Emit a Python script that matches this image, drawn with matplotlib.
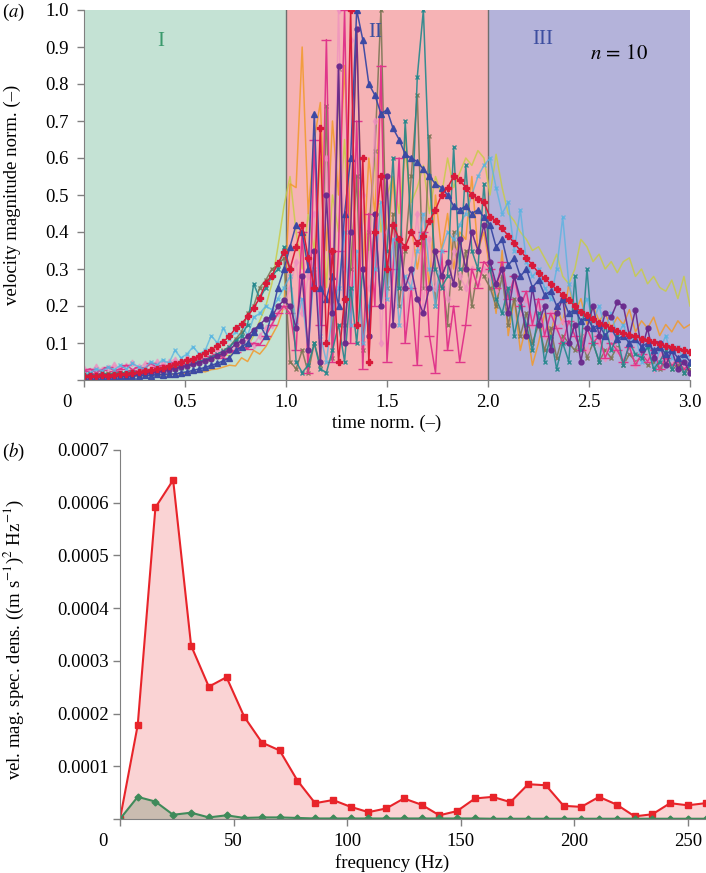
import numpy as np
import matplotlib
matplotlib.use('Agg')
import matplotlib.pyplot as plt
import matplotlib.transforms as mtransforms

plt.rcParams['font.family'] = ['Liberation Serif', 'DejaVu Serif']
plt.rcParams['mathtext.fontset'] = 'stix'
plt.rcParams['font.size'] = 13.5

# ---- panel (a): normalised velocity magnitude, 10 runs, sampled every 0.03 ----
time_norm = np.round(np.arange(101) * 0.03, 2)

run_red = [0.010, 0.012, 0.010, 0.013, 0.012, 0.014, 0.015, 0.017, 0.019, 0.021,
           0.024, 0.026, 0.030, 0.033, 0.038, 0.042, 0.048, 0.053, 0.058, 0.066,
           0.074, 0.082, 0.092, 0.104, 0.118, 0.140, 0.152, 0.172, 0.195, 0.222,
           0.262, 0.282, 0.315, 0.345] + \
          [0.30, 0.36, 0.42, 0.33, 0.25, 0.68, 0.10, 0.35, 0.05, 0.22, 1.00,
           0.15, 0.60, 0.05, 0.40, 0.55, 0.30, 0.42, 0.38, 0.36, 0.40, 0.37,
           0.39, 0.43, 0.46, 0.50, 0.52, 0.55, 0.54, 0.52, 0.50, 0.49, 0.48] + \
          [0.44, 0.43, 0.41, 0.39, 0.37, 0.35, 0.33, 0.31, 0.29, 0.275,
           0.26, 0.245, 0.23, 0.215, 0.20, 0.185, 0.175, 0.165, 0.155, 0.148,
           0.140, 0.133, 0.127, 0.122, 0.118, 0.112, 0.107, 0.102, 0.097, 0.092,
           0.088, 0.084, 0.080, 0.077]

run_blue = [0.008, 0.007, 0.009, 0.008, 0.010, 0.009, 0.011, 0.010, 0.012, 0.011,
            0.013, 0.012, 0.015, 0.014, 0.017, 0.016, 0.020, 0.022, 0.026, 0.030,
            0.034, 0.040, 0.045, 0.052, 0.060, 0.080, 0.090, 0.100, 0.130, 0.150,
            0.120, 0.180, 0.250, 0.300] + \
           [0.36, 0.42, 0.40, 0.30, 0.72, 0.25, 0.22, 0.28, 0.20, 0.45, 0.60,
            1.00, 0.92, 0.80, 0.77, 0.72, 0.73, 0.68, 0.65, 0.61, 0.60, 0.59,
            0.57, 0.55, 0.53, 0.52, 0.50, 0.47, 0.46, 0.47, 0.45, 0.46, 0.44] + \
           [0.42, 0.36, 0.38, 0.31, 0.33, 0.28, 0.30, 0.25, 0.27, 0.23,
            0.24, 0.20, 0.22, 0.18, 0.19, 0.16, 0.17, 0.14, 0.15, 0.12,
            0.14, 0.11, 0.12, 0.10, 0.11, 0.09, 0.10, 0.08, 0.09, 0.07,
            0.08, 0.06, 0.07, 0.05]

run_purple = [0.008, 0.010, 0.009, 0.011, 0.010, 0.012, 0.013, 0.012, 0.014, 0.016,
              0.018, 0.020, 0.022, 0.025, 0.028, 0.031, 0.035, 0.038, 0.042, 0.047,
              0.052, 0.058, 0.065, 0.072, 0.080, 0.098, 0.105, 0.120, 0.135, 0.150,
              0.165, 0.170, 0.200, 0.215] + \
             [0.20, 0.14, 0.28, 0.08, 0.35, 0.05, 0.50, 0.18, 0.85, 0.10, 0.40,
              0.95, 0.30, 0.12, 0.45, 0.20, 0.55, 0.15, 0.38, 0.25, 0.30, 0.22,
              0.18, 0.25, 0.35, 0.28, 0.32, 0.26, 0.38, 0.30, 0.40, 0.35, 0.42] + \
             [0.32, 0.26, 0.30, 0.18, 0.28, 0.22, 0.12, 0.25, 0.15, 0.20,
              0.08, 0.18, 0.22, 0.10, 0.15, 0.05, 0.14, 0.20, 0.12, 0.18,
              0.17, 0.21, 0.20, 0.12, 0.19, 0.08, 0.14, 0.06, 0.10, 0.04,
              0.08, 0.03, 0.05, 0.02]

run_teal = [0.010, 0.015, 0.012, 0.018, 0.014, 0.016, 0.020, 0.018, 0.022, 0.020,
            0.025, 0.022, 0.028, 0.030, 0.027, 0.035, 0.032, 0.040, 0.045, 0.050,
            0.055, 0.062, 0.070, 0.078, 0.090, 0.105, 0.120, 0.150, 0.260, 0.220,
            0.250, 0.280, 0.300, 0.360] + \
           [0.30, 0.05, 0.02, 0.04, 0.10, 0.03, 0.02, 0.08, 0.15, 0.05, 0.25,
            0.10, 0.30, 0.12, 0.45, 0.20, 0.35, 0.60, 0.25, 0.70, 0.40, 0.82,
            1.00, 0.55, 0.30, 0.25, 0.28, 0.63, 0.30, 0.58, 0.35, 0.30, 0.53] + \
           [0.30, 0.22, 0.18, 0.25, 0.12, 0.20, 0.15, 0.08, 0.18, 0.05,
            0.12, 0.03, 0.10, 0.05, 0.28, 0.08, 0.30, 0.10, 0.05, 0.15,
            0.08, 0.12, 0.04, 0.10, 0.07, 0.06, 0.09, 0.03, 0.05, 0.08,
            0.03, 0.06, 0.02, 0.04]

run_lightblue = [0.015, 0.020, 0.030, 0.025, 0.035, 0.028, 0.040, 0.030, 0.045, 0.035,
                 0.030, 0.050, 0.040, 0.055, 0.045, 0.080, 0.060, 0.070, 0.090, 0.070,
                 0.080, 0.120, 0.100, 0.140, 0.110, 0.130, 0.150, 0.120, 0.170, 0.180,
                 0.200, 0.190, 0.220, 0.250] + \
                [0.28, 0.15, 0.22, 0.08, 0.30, 0.12, 0.05, 0.18, 0.25, 0.40, 0.15,
                 0.35, 0.10, 0.20, 0.30, 0.48, 0.22, 0.38, 0.15, 0.28, 0.25, 0.35,
                 0.45, 0.30, 0.20, 0.35, 0.40, 0.38, 0.42, 0.45, 0.50, 0.55, 0.58] + \
                [0.60, 0.52, 0.45, 0.48, 0.35, 0.46, 0.32, 0.28, 0.30, 0.25,
                 0.22, 0.30, 0.44, 0.26, 0.20, 0.18, 0.22, 0.16, 0.20, 0.14,
                 0.18, 0.12, 0.15, 0.10, 0.12, 0.05, 0.10, 0.03, 0.08, 0.12,
                 0.06, 0.09, 0.05, 0.07]

run_yellow = [0.012, 0.010, 0.015, 0.013, 0.018, 0.015, 0.020, 0.017, 0.022, 0.020,
              0.025, 0.022, 0.028, 0.026, 0.032, 0.030, 0.036, 0.040, 0.045, 0.050,
              0.048, 0.055, 0.060, 0.070, 0.065, 0.080, 0.100, 0.090, 0.120, 0.160,
              0.200, 0.260, 0.360, 0.470] + \
             [0.55, 0.40, 0.30, 0.45, 0.35, 0.60, 0.25, 0.50, 0.40, 0.65, 0.30,
              0.55, 0.45, 0.35, 0.60, 0.40, 0.50, 0.55, 0.45, 0.62, 0.48, 0.52,
              0.58, 0.45, 0.55, 0.50, 0.60, 0.52, 0.56, 0.60, 0.58, 0.62, 0.60] + \
             [0.50, 0.61, 0.52, 0.45, 0.43, 0.40, 0.38, 0.35, 0.36, 0.33,
              0.30, 0.34, 0.28, 0.26, 0.30, 0.38, 0.36, 0.32, 0.34, 0.30,
              0.32, 0.29, 0.32, 0.33, 0.28, 0.30, 0.26, 0.28, 0.25, 0.24,
              0.27, 0.22, 0.28, 0.20]

run_orange = [0.005, 0.008, 0.006, 0.009, 0.007, 0.010, 0.008, 0.011, 0.009, 0.012,
              0.010, 0.013, 0.012, 0.015, 0.014, 0.017, 0.016, 0.020, 0.018, 0.024,
              0.022, 0.028, 0.030, 0.035, 0.040, 0.038, 0.060, 0.050, 0.080, 0.070,
              0.090, 0.120, 0.150, 0.200] + \
             [0.53, 0.52, 0.90, 0.45, 0.65, 0.75, 0.35, 0.70, 0.50, 0.85, 0.40,
              0.95, 0.30, 0.60, 0.45, 0.80, 0.35, 0.55, 0.28, 0.68, 0.42, 0.30,
              0.40, 0.25, 0.50, 0.35, 0.45, 0.30, 0.40, 0.38, 0.55, 0.35, 0.40] + \
             [0.30, 0.18, 0.35, 0.12, 0.22, 0.08, 0.15, 0.04, 0.10, 0.18,
              0.12, 0.20, 0.15, 0.26, 0.18, 0.22, 0.15, 0.20, 0.16, 0.18,
              0.14, 0.17, 0.15, 0.19, 0.13, 0.16, 0.14, 0.17, 0.12, 0.15,
              0.13, 0.16, 0.14, 0.15]

run_magenta = [0.025, 0.030, 0.020, 0.028, 0.035, 0.025, 0.030, 0.040, 0.028, 0.035,
               0.030, 0.045, 0.035, 0.040, 0.038, 0.050, 0.042, 0.055, 0.048, 0.060,
               0.055, 0.065, 0.070, 0.060, 0.080, 0.075, 0.090, 0.085, 0.100, 0.095,
               0.120, 0.150, 0.180, 0.200] + \
              [0.18, 0.08, 0.40, 0.02, 0.65, 0.15, 0.92, 0.05, 0.35, 1.00, 0.10,
               0.70, 0.03, 0.45, 0.20, 0.85, 0.05, 0.30, 0.60, 0.10, 0.25, 0.04,
               0.40, 0.12, 0.02, 0.35, 0.08, 0.20, 0.05, 0.15, 0.30, 0.25, 0.32] + \
              [0.30, 0.25, 0.32, 0.22, 0.28, 0.20, 0.24, 0.15, 0.22, 0.12,
               0.18, 0.14, 0.10, 0.16, 0.12, 0.08, 0.14, 0.10, 0.12, 0.06,
               0.10, 0.08, 0.05, 0.09, 0.04, 0.07, 0.05, 0.08, 0.03, 0.06,
               0.04, 0.05, 0.03, 0.04]

run_olive = [0.015, 0.012, 0.018, 0.014, 0.020, 0.016, 0.022, 0.018, 0.025, 0.020,
             0.028, 0.024, 0.030, 0.026, 0.035, 0.030, 0.040, 0.036, 0.045, 0.050,
             0.055, 0.060, 0.070, 0.080, 0.090, 0.110, 0.130, 0.180, 0.200, 0.250,
             0.270, 0.300, 0.310, 0.330] + \
            [0.05, 0.03, 0.08, 0.02, 0.10, 0.04, 0.74, 0.06, 0.84, 0.15, 0.30,
             0.55, 0.08, 0.40, 0.62, 1.00, 0.25, 0.45, 0.20, 0.35, 0.55, 0.77,
             0.25, 0.66, 0.20, 0.30, 0.15, 0.40, 0.25, 0.35, 0.20, 0.30, 0.28] + \
            [0.25, 0.20, 0.28, 0.15, 0.22, 0.12, 0.18, 0.10, 0.15, 0.08,
             0.14, 0.06, 0.12, 0.10, 0.08, 0.12, 0.06, 0.10, 0.05, 0.08,
             0.06, 0.09, 0.04, 0.07, 0.05, 0.06, 0.04, 0.05, 0.03, 0.05,
             0.03, 0.04, 0.02, 0.03]

run_pink = [0.030, 0.025, 0.035, 0.028, 0.032, 0.040, 0.030, 0.038, 0.045, 0.035,
            0.042, 0.040, 0.048, 0.045, 0.050, 0.055, 0.048, 0.060, 0.055, 0.065,
            0.070, 0.060, 0.080, 0.075, 0.090, 0.085, 0.100, 0.110, 0.095, 0.120,
            0.140, 0.150, 0.180, 0.200] + \
           [0.25, 0.32, 0.18, 0.28, 0.45, 0.10, 0.60, 0.20, 1.00, 0.30, 0.92,
            0.15, 0.50, 0.25, 0.70, 0.10, 0.40, 0.20, 0.35, 0.15, 0.30, 0.45,
            0.20, 0.38, 0.25, 0.30, 0.22, 0.35, 0.28, 0.25, 0.30, 0.26, 0.30] + \
           [0.28, 0.24, 0.30, 0.20, 0.26, 0.18, 0.22, 0.15, 0.20, 0.12,
            0.18, 0.14, 0.16, 0.10, 0.15, 0.12, 0.08, 0.14, 0.10, 0.06,
            0.12, 0.08, 0.05, 0.10, 0.04, 0.08, 0.06, 0.03, 0.07, 0.05,
            0.04, 0.06, 0.03, 0.05]

# ---- panel (b): spectral density ----
freq_hz = [0.0, 7.8, 15.6, 23.4, 31.3, 39.1, 46.9, 54.7, 62.5, 70.3,
           78.1, 85.9, 93.8, 101.6, 109.4, 117.2, 125.0, 132.8, 140.6, 148.4,
           156.3, 164.1, 171.9, 179.7, 187.5, 195.3, 203.1, 210.9, 218.8, 226.6,
           234.4, 242.2, 250.0, 257.8]
psd_red = [0.0, 1.78, 5.91, 6.43, 3.29, 2.51, 2.69, 1.94, 1.45, 1.30,
           0.73, 0.30, 0.36, 0.23, 0.13, 0.20, 0.39, 0.27, 0.07, 0.15,
           0.39, 0.42, 0.32, 0.66, 0.64, 0.25, 0.23, 0.42, 0.27, 0.05,
           0.09, 0.30, 0.26, 0.30]
psd_green = [0.0, 0.42, 0.33, 0.08, 0.12, 0.03, 0.07, 0.02, 0.03, 0.03,
             0.02, 0.01, 0.01, 0.01, 0.01, 0.01, 0.01, 0.01, 0.01, 0.01,
             0.01, 0.005, 0.005, 0.005, 0.005, 0.005, 0.005, 0.005, 0.005, 0.005,
             0.005, 0.005, 0.005, 0.005]
psd_scale = 1e-4

W, H = 706, 873
fig = plt.figure(figsize=(W / 100, H / 100), dpi=100)
grey = '#808080'

def shift_first_label(ax, dx_px):
    lab = ax.get_xticklabels()[0]
    off = mtransforms.ScaledTranslation(dx_px / 100, 0, fig.dpi_scale_trans)
    lab.set_transform(lab.get_transform() + off)

# ---------------- panel (a) ----------------
ax1 = fig.add_axes([84 / W, 1 - 380 / H, 606 / W, 370 / H])
ax1.axvspan(0, 1, color='#c4e2d4', lw=0, zorder=0)
ax1.axvspan(1, 2, color='#f6b3b5', lw=0, zorder=0)
ax1.axvspan(2, 3, color='#b4b3da', lw=0, zorder=0)
ax1.axvline(1, color='#6e6e6e', lw=1, zorder=1)
ax1.axvline(2, color='#6e6e6e', lw=1, zorder=1)

runs = [
    (run_yellow, '#c9cc48', 'None', 0, 0.85),
    (run_orange, '#f29a2a', 'None', 0, 0.85),
    (run_olive, '#7d7656', 'x', 3.5, 0.9),
    (run_pink, '#ee8fc0', 'd', 3.5, 0.7),
    (run_magenta, '#e0368a', '_', 7, 1.0),
    (run_lightblue, '#55b4e2', 'x', 3.5, 0.75),
    (run_teal, '#23878c', 'x', 3.5, 0.9),
    (run_purple, '#6a2a8c', 'o', 3.5, 0.95),
    (run_blue, '#3a48a4', '^', 4.5, 0.95),
    (run_red, '#d81a3a', 'P', 5, 1.0),
]
for vals, col, mk, ms, a in runs:
    ax1.plot(time_norm, vals, color=col, marker=mk, markersize=ms,
             markeredgewidth=1, lw=1.1, alpha=a, zorder=2)

ax1.text(0.38, 0.915, 'I', color='#3a9a6c', fontsize=15, ha='center', va='center')
ax1.text(1.44, 0.94, 'II', color='#3d4ea0', fontsize=15, ha='center', va='center')
ax1.text(2.27, 0.92, 'III', color='#3d4ea0', fontsize=15, ha='center', va='center')
ax1.text(2.65, 0.88, r'$n\,=\,10$', color='black', fontsize=15, ha='center', va='center')

ax1.set_xlim(0, 3)
ax1.set_ylim(0, 1)
ax1.set_xticks([0, 0.5, 1.0, 1.5, 2.0, 2.5, 3.0])
ax1.set_xticklabels(['0', '0.5', '1.0', '1.5', '2.0', '2.5', '3.0'])
ax1.set_yticks(np.round(np.arange(0, 1.01, 0.1), 1))
ax1.set_yticklabels([''] + ['%.1f' % v for v in np.arange(0.1, 1.01, 0.1)])
for s in ['top', 'right']:
    ax1.spines[s].set_visible(False)
for s in ['left', 'bottom']:
    ax1.spines[s].set_color(grey)
ax1.tick_params(direction='out', length=5, width=1, color=grey, pad=5)
ax1.tick_params(axis='y', pad=6)
ax1.set_xlabel('time norm. (–)')
ax1.set_ylabel('velocity magnitude norm. (–)')
ax1.xaxis.set_label_coords(0.5, -0.095)
ax1.yaxis.set_label_coords(-0.104, 0.5)
shift_first_label(ax1, -17)
fig.text(2 / W, 1 - 12 / H, r'($a$)', fontsize=13.5, va='center', ha='left')

# ---------------- panel (b) ----------------
ax2 = fig.add_axes([120 / W, 1 - 819 / H, 586 / W, 369 / H])
red_v = np.array(psd_red) * psd_scale
green_v = np.array(psd_green) * psd_scale
ax2.fill_between(freq_hz, 0, red_v, color='#e8242a', alpha=0.2, lw=0)
ax2.fill_between(freq_hz, 0, green_v, color='#3d7a45', alpha=0.25, lw=0)
ax2.plot(freq_hz, red_v, color='#e8242a', marker='s', markersize=4.5, lw=1.5)
ax2.plot(freq_hz, green_v, color='#3f8a5a', marker='D', markersize=3.5, lw=1.5)
ax2.set_xlim(0, 258)
ax2.set_ylim(0, 0.0007)
ax2.set_xticks([0, 50, 100, 150, 200, 250])
ax2.set_yticks([0, 0.0001, 0.0002, 0.0003, 0.0004, 0.0005, 0.0006, 0.0007])
ax2.set_yticklabels([''] + ['%.4f' % (k * 1e-4) for k in range(1, 8)])
for s in ['top', 'right']:
    ax2.spines[s].set_visible(False)
for s in ['left', 'bottom']:
    ax2.spines[s].set_color(grey)
ax2.tick_params(direction='out', length=5, width=1, color=grey, pad=5)
ax2.tick_params(axis='y', pad=3)
ax2.set_xlabel('frequency (Hz)')
ax2.set_ylabel(r'vel. mag. spec. dens. ((m s$^{-1}$)$^{2}$ Hz$^{-1}$)')
ax2.xaxis.set_label_coords(0.464, -0.095)
ax2.yaxis.set_label_coords(-0.16, 0.485)
shift_first_label(ax2, -17)
fig.text(2 / W, 1 - 452 / H, r'($b$)', fontsize=13.5, va='center', ha='left')

fig.savefig('out.png', dpi=100)
